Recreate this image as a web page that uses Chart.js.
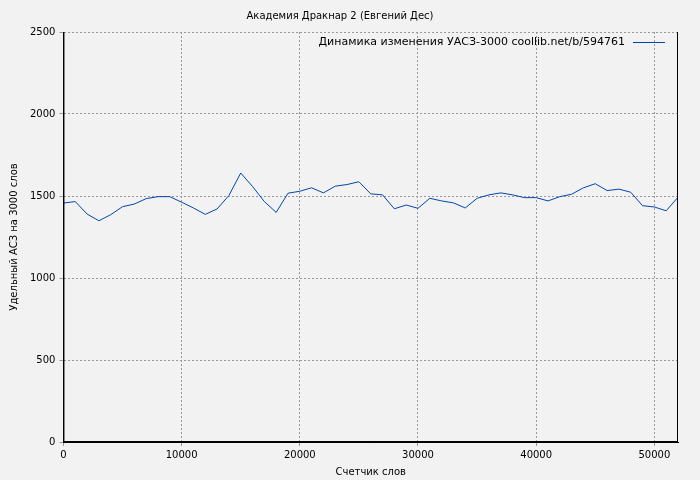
<!DOCTYPE html>
<html><head><meta charset="utf-8">
<script src="https://cdn.jsdelivr.net/npm/chart.js@4"></script>
<style>html,body{margin:0;background:#f2f2f2}#w{width:700px;height:480px}</style>
</head><body><div id="w"><canvas id="c"></canvas></div>
<script>
const words = [0,1000,2000,3000,4000,5000,6000,7000,8000,9000,10000,11000,12000,13000,14000,15000,16000,17000,18000,19000,20000,21000,22000,23000,24000,25000,26000,27000,28000,29000,30000,31000,32000,33000,34000,35000,36000,37000,38000,39000,40000,41000,42000,43000,44000,45000,46000,47000,48000,49000,50000,51000,52000];
const uasz = [1457,1466,1390,1349,1386,1435,1451,1484,1496,1496,1462,1427,1388,1421,1503,1640,1558,1466,1400,1517,1529,1550,1519,1560,1570,1587,1513,1507,1422,1445,1425,1486,1470,1458,1427,1486,1507,1519,1507,1490,1490,1470,1496,1511,1550,1575,1533,1542,1523,1441,1433,1410,1492];
const xTicks = [0,10000,20000,30000,40000,50000];
const yTicks = [0,500,1000,1500,2000,2500];
const title = 'Академия Дракнар 2 (Евгений Дес)';
const seriesLabel = 'Динамика изменения УАСЗ-3000 coollib.net/b/594761';
const xTitle = 'Счетчик слов', yTitle = 'Удельный АСЗ на 3000 слов';
const font = {family:'DejaVu Sans', size:10};
const legendPlugin = {id:'lg', afterDraw(ch){
  const c=ch.ctx, a=ch.chartArea; c.save();
  c.font='11px DejaVu Sans'; c.fillStyle='#000'; c.textAlign='right'; c.textBaseline='middle';
  c.fillText(seriesLabel, a.right-53, a.top+10);
  c.strokeStyle='#0047ab'; c.lineWidth=1; c.beginPath(); c.moveTo(a.right-45,a.top+10.5); c.lineTo(a.right-13,a.top+10.5); c.stroke();
  c.restore();}};
new Chart(document.getElementById('c'), {
  type:'line',
  data:{datasets:[{label:seriesLabel, data:words.map((x,i)=>({x, y:uasz[i]})), borderColor:'#0047ab', borderWidth:1, pointRadius:0, tension:0}]},
  options:{responsive:true, maintainAspectRatio:false, animation:false,
    layout:{padding:{left:2,right:22,top:0,bottom:0}},
    plugins:{legend:{display:false}, title:{display:true, text:title, color:'#000', font:{family:'DejaVu Sans',size:10,weight:'normal'}, padding:{top:10,bottom:10}}},
    scales:{
      x:{type:'linear', min:0, max:52000, afterBuildTicks:s=>{s.ticks=xTicks.map(v=>({value:v}));}, ticks:{color:'#000', font, maxRotation:0, callback:v=>String(v)},
        grid:{color:'#999', drawTicks:true, tickLength:4}, border:{color:'#000', dash:[2,2]}, title:{display:true, text:xTitle, color:'#000', font, padding:2}},
      y:{min:0, max:2500, afterBuildTicks:s=>{s.ticks=yTicks.map(v=>({value:v}));}, ticks:{color:'#000', font, padding:4, callback:v=>String(v)},
        grid:{color:'#999', drawTicks:true, tickLength:4}, border:{color:'#000', dash:[2,2]}, title:{display:true, text:yTitle, color:'#000', font, padding:6}}
    }},
  plugins:[legendPlugin, {id:'bg', beforeDraw(ch){const c=ch.ctx;c.save();c.fillStyle='#f2f2f2';c.fillRect(0,0,ch.width,ch.height);c.restore();},
    afterDraw(ch){const c=ch.ctx,a=ch.chartArea;c.save();c.strokeStyle='#000';c.lineWidth=1;c.beginPath();c.moveTo(a.left+0.5,a.top);c.lineTo(a.left+0.5,a.bottom-0.5);c.lineTo(a.right,a.bottom-0.5);c.moveTo(a.right-0.5,a.top);c.lineTo(a.right-0.5,a.bottom);c.stroke();c.restore();}}]
});
</script></body></html>
